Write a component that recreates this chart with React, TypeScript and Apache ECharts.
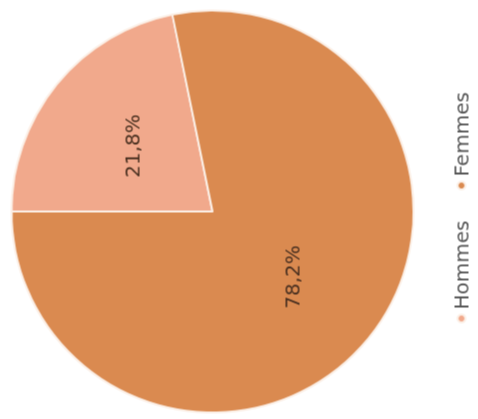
import React, { useEffect, useRef } from "react";
import * as echarts from "echarts";

const categories = ["Hommes", "Femmes"];
const values = [21.8, 78.2];
const colors = ["#F1A98C", "#DA8A50"];

export default function App() {
  const ref = useRef<HTMLDivElement>(null);
  useEffect(() => {
    if (!ref.current) return;
    const chart = echarts.init(ref.current, undefined, { renderer: "svg" });
    chart.setOption({
      animation: false,
      color: colors,
      legend: {
        data: categories,
        orient: "horizontal",
        left: 96,
        top: 451,
        padding: 0,
        icon: "circle",
        itemWidth: 8,
        itemHeight: 8,
        itemGap: 30,
        textStyle: { fontSize: 20, color: "#555", fontFamily: "DejaVu Sans, sans-serif" },
      },
      series: [
        {
          type: "pie",
          center: [208, 212],
          radius: [0, 201],
          startAngle: 90,
          clockwise: true,
          data: categories.map((c, i) => ({ name: c, value: values[i] })),
          itemStyle: { borderColor: "#FBEFE6", borderWidth: 2 },
          label: {
            show: true,
            position: "inside",
            formatter: (p: any) => p.value.toFixed(1).replace(".", ",") + "%",
            fontSize: 20,
            color: "#4a3020",
            fontFamily: "DejaVu Sans, sans-serif",
          },
          labelLine: { show: false },
        },
      ],
    });
    return () => chart.dispose();
  }, []);
  return (
    <div
      style={{
        position: "fixed",
        left: 29.5,
        top: -29.5,
        width: 419,
        height: 478,
        transform: "rotate(-90deg)",
        transformOrigin: "center center",
        background: "#fff",
      }}
    >
      <div ref={ref} style={{ width: 419, height: 478 }} />
    </div>
  );
}
